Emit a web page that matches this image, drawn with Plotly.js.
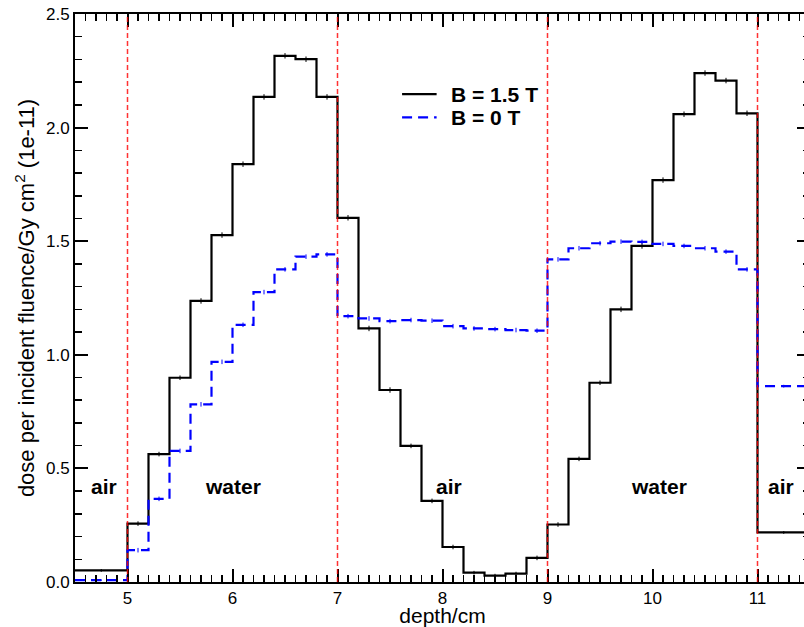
<!DOCTYPE html>
<html>
<head>
<meta charset="utf-8">
<script src="https://cdn.plot.ly/plotly-3.0.1.min.js"></script>
<style>
html, body { margin: 0; padding: 0; overflow: hidden; background: #fff; }
#plot { width: 830px; height: 627px; }
</style>
</head>
<body>
<div id="plot"></div>
<script>
// bin edges (depth / cm)
const binEdges = [4.5, 5.0, 5.2, 5.4, 5.6, 5.8, 6.0, 6.2, 6.4, 6.6, 6.8, 7.0,
  7.2, 7.4, 7.6, 7.8, 8.0, 8.2, 8.4, 8.6, 8.8, 9.0,
  9.2, 9.4, 9.6, 9.8, 10.0, 10.2, 10.4, 10.6, 10.8, 11.0, 11.5];
// dose per incident fluence (1e-11 Gy cm^2), B = 1.5 T
const doseB15 = [0.051,
  0.257, 0.563, 0.899, 1.237, 1.527, 1.839, 2.135, 2.316, 2.301, 2.135,
  1.603, 1.116, 0.845, 0.599, 0.357, 0.154, 0.041, 0.028, 0.037, 0.106,
  0.253, 0.542, 0.877, 1.200, 1.479, 1.769, 2.059, 2.240, 2.207, 2.063,
  0.218];
// B = 0 T
const doseB0 = [0.008,
  0.140, 0.366, 0.577, 0.782, 0.969, 1.132, 1.276, 1.376, 1.432, 1.442,
  1.170, 1.160, 1.148, 1.153, 1.150, 1.126, 1.116, 1.113, 1.109, 1.106,
  1.420, 1.469, 1.491, 1.498, 1.497, 1.488, 1.479, 1.469, 1.454, 1.376,
  0.862];
// statistical uncertainties
const errB15 = [0.006,
  0.010, 0.010, 0.010, 0.012, 0.012, 0.012, 0.012, 0.012, 0.012, 0.012,
  0.012, 0.012, 0.012, 0.010, 0.010, 0.010, 0.008, 0.008, 0.008, 0.010,
  0.010, 0.010, 0.010, 0.012, 0.012, 0.012, 0.012, 0.012, 0.012, 0.012,
  0.006];
const errB0 = [0.004,
  0.010, 0.010, 0.010, 0.010, 0.010, 0.010, 0.010, 0.010, 0.010, 0.010,
  0.010, 0.010, 0.010, 0.010, 0.010, 0.010, 0.010, 0.010, 0.010, 0.010,
  0.010, 0.010, 0.010, 0.010, 0.010, 0.010, 0.010, 0.010, 0.010, 0.010,
  0.006];
const boundaries = [5, 7, 9, 11];
const materials = ['air', 'water', 'air', 'water', 'air'];
const materialX = [4.78, 6.0, 8.06, 10.06, 11.22];
const materialY = 0.42;
const seriesNames = ['B = 1.5 T', 'B = 0 T'];

const FONT = 'Liberation Sans, Arial, Helvetica, sans-serif';

function stepXY(vals) {
  return {x: binEdges.slice(), y: vals.concat([vals[vals.length - 1]])};
}
function centers() {
  const c = [];
  for (let i = 0; i < binEdges.length - 1; i++) c.push((binEdges[i] + binEdges[i + 1]) / 2);
  return c;
}
const s15 = stepXY(doseB15), s0 = stepXY(doseB0);
const cx = centers();

const blackLine = () => ({color: '#000', width: 2.2});
const blueLine = () => ({color: '#0000ff', width: 2.2, dash: '10px,6px'});

const traces = [
  {x: s15.x, y: s15.y, mode: 'lines', line: Object.assign({shape: 'hv'}, blackLine()),
   name: seriesNames[0], showlegend: false},
  {x: s0.x, y: s0.y, mode: 'lines', line: Object.assign({shape: 'hv'}, blueLine()),
   name: seriesNames[1], showlegend: false},
  {x: cx, y: doseB15, mode: 'markers', marker: {size: 0.1, color: 'rgba(0,0,0,0)'},
   error_y: {type: 'data', array: errB15, visible: true, color: '#000', thickness: 1, width: 0},
   showlegend: false, hoverinfo: 'skip'},
  {x: cx, y: doseB0, mode: 'markers', marker: {size: 0.1, color: 'rgba(0,0,0,0)'},
   error_y: {type: 'data', array: errB0, visible: true, color: '#0000ff', thickness: 1, width: 0},
   showlegend: false, hoverinfo: 'skip'},
  // invisible trace to anchor the mirrored top/right axes
  {x: [binEdges[0]], y: [0], xaxis: 'x2', yaxis: 'y2', mode: 'markers',
   marker: {size: 0.1, color: 'rgba(0,0,0,0)'}, showlegend: false, hoverinfo: 'skip'}
];

const shapes = boundaries.map(b => ({
  type: 'line', xref: 'x', yref: 'paper', x0: b, x1: b, y0: 0, y1: 1,
  line: {color: '#ff0000', width: 1.5, dash: '5px,3px'}, layer: 'above', opacity: 0.8
}));
// legend line samples (paper coordinates)
const legX0 = 0.445, legX1 = 0.492, legY = [0.859, 0.818];
shapes.push({type: 'line', xref: 'paper', yref: 'paper', x0: legX0, x1: legX1, y0: legY[0], y1: legY[0], line: blackLine()});
shapes.push({type: 'line', xref: 'paper', yref: 'paper', x0: legX0, x1: legX1, y0: legY[1], y1: legY[1], line: blueLine()});

const annotations = materials.map((m, i) => ({
  x: materialX[i], y: materialY, xref: 'x', yref: 'y', text: '<b>' + m + '</b>',
  showarrow: false, font: {family: FONT, size: 21, color: '#000'}
}));
seriesNames.forEach((n, i) => annotations.push({
  x: 0.509, y: legY[i], xref: 'paper', yref: 'paper', xanchor: 'left', yanchor: 'middle',
  text: '<b>' + n + '</b>', showarrow: false, font: {family: FONT, size: 21, color: '#000'}
}));

function axisBase() {
  return {
    showgrid: false, zeroline: false, showline: true, linecolor: '#000', linewidth: 2,
    ticks: 'inside', ticklen: 13, tickwidth: 2, tickcolor: '#000',
    tickfont: {family: FONT, size: 17, color: '#000'},
    minor: {dtick: 0.1, ticks: 'inside', ticklen: 7, tickwidth: 1.5, tickcolor: '#000'}
  };
}

const layout = {
  width: 830, height: 627,
  margin: {l: 75, r: 20, t: 14, b: 45},
  paper_bgcolor: '#fff', plot_bgcolor: '#fff',
  font: {family: FONT, color: '#000'},
  showlegend: false,
  xaxis: Object.assign(axisBase(), {
    range: [4.5, 11.5], dtick: 1,
    title: {text: 'depth/cm', font: {family: FONT, size: 21, color: '#000'}, standoff: 0}
  }),
  yaxis: Object.assign(axisBase(), {
    range: [0, 2.5], dtick: 0.5, tickformat: '.1f',
    title: {text: 'dose per incident fluence/Gy cm<sup>2</sup> (1e-11)', font: {family: FONT, size: 22, color: '#000'}, standoff: 5}
  }),
  xaxis2: Object.assign(axisBase(), {
    overlaying: 'x', side: 'top', anchor: 'y2', range: [4.5, 11.5], dtick: 1,
    showticklabels: true, tickfont: {size: 1, color: 'rgba(0,0,0,0)'}
  }),
  yaxis2: Object.assign(axisBase(), {
    overlaying: 'y', side: 'right', anchor: 'x2', range: [0, 2.5], dtick: 0.5,
    showticklabels: true, tickfont: {size: 1, color: 'rgba(0,0,0,0)'}
  }),
  shapes: shapes,
  annotations: annotations
};

Plotly.newPlot('plot', traces, layout, {staticPlot: true, displayModeBar: false});
</script>
</body>
</html>
